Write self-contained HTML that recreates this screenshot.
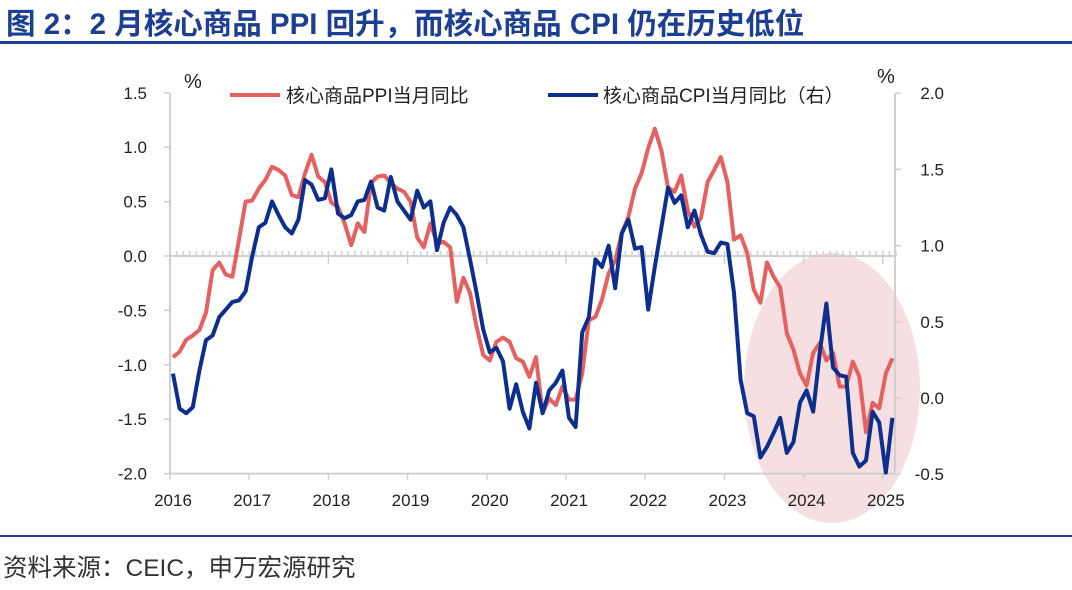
<!DOCTYPE html>
<html><head><meta charset="utf-8"><style>
body{margin:0;background:#fff;width:1072px;height:590px;overflow:hidden;font-family:"Liberation Sans","Noto Sans CJK SC",sans-serif;}
</style></head><body>
<svg id="c" width="1072" height="590" style="position:absolute;left:0;top:0;font-family:'Liberation Sans','Noto Sans CJK SC',sans-serif">
<text x="6" y="34" font-size="29.5" font-weight="bold" fill="#1c3f94">图 2：2 月核心商品 PPI 回升，而核心商品 CPI 仍在历史低位</text>
<rect x="0" y="41" width="1072" height="3" fill="#1c3f94"/>
<rect x="0" y="535" width="1072" height="2" fill="#1c3f94"/>
<text x="3" y="576" font-size="24.5" fill="#333">资料来源：CEIC，申万宏源研究</text>
<ellipse cx="832" cy="388" rx="88" ry="135" fill="#f6dfe1"/>
<g id="axes"></g>
<g id="series"></g>
<text x="184" y="88" font-size="20" fill="#222">%</text>
<text x="877" y="83" font-size="20" fill="#222">%</text>
<g>
<line x1="230" y1="95" x2="280" y2="95" stroke="#e5605f" stroke-width="4"/>
<text x="286" y="102" font-size="19" fill="#222">核心商品PPI当月同比</text>
<line x1="548" y1="95" x2="598" y2="95" stroke="#0c2f8f" stroke-width="4"/>
<text x="603" y="102" font-size="19" fill="#222">核心商品CPI当月同比（右）</text>
</g>
</svg>
<script>
const years=["2016","2017","2018","2019","2020","2021","2022","2023","2024","2025"];
const leftTicks=[1.5,1.0,0.5,0.0,-0.5,-1.0,-1.5,-2.0];
const rightTicks=[2.0,1.5,1.0,0.5,0.0,-0.5];
const ppi=[-0.93,-0.88,-0.77,-0.73,-0.68,-0.52,-0.13,-0.06,-0.17,-0.19,0.15,0.5,0.51,0.62,0.70,0.82,0.79,0.74,0.56,0.54,0.76,0.93,0.73,0.68,0.49,0.45,0.30,0.10,0.30,0.22,0.67,0.73,0.74,0.67,0.62,0.59,0.50,0.17,0.08,0.30,0.12,0.13,0.08,-0.42,-0.20,-0.34,-0.65,-0.91,-0.96,-0.79,-0.75,-0.79,-0.94,-0.97,-1.11,-0.93,-1.44,-1.31,-1.37,-1.20,-1.32,-1.32,-1.08,-0.59,-0.56,-0.40,-0.16,-0.04,0.21,0.36,0.62,0.76,0.99,1.17,0.97,0.63,0.59,0.74,0.42,0.27,0.35,0.68,0.79,0.91,0.68,0.15,0.19,0.03,-0.31,-0.43,-0.06,-0.19,-0.29,-0.71,-0.86,-1.08,-1.19,-0.89,-0.80,-0.96,-0.89,-1.20,-1.20,-0.97,-1.11,-1.62,-1.35,-1.40,-1.08,-0.94];
const cpi=[0.16,-0.07,-0.10,-0.06,0.18,0.38,0.41,0.53,0.58,0.63,0.64,0.70,0.93,1.12,1.15,1.29,1.20,1.12,1.08,1.17,1.43,1.40,1.30,1.31,1.50,1.21,1.18,1.20,1.29,1.30,1.42,1.25,1.23,1.45,1.29,1.23,1.17,1.36,1.25,1.29,0.97,1.15,1.25,1.20,1.12,0.91,0.69,0.45,0.30,0.33,0.24,-0.07,0.09,-0.09,-0.20,0.10,-0.10,0.05,0.10,0.18,-0.13,-0.19,0.43,0.53,0.91,0.86,1.00,0.72,1.08,1.17,0.98,0.99,0.58,0.86,1.12,1.38,1.28,1.33,1.12,1.23,1.07,0.96,0.95,1.02,1.01,0.69,0.12,-0.10,-0.12,-0.39,-0.32,-0.23,-0.13,-0.36,-0.29,-0.03,0.05,-0.09,0.30,0.62,0.20,0.15,0.14,-0.36,-0.45,-0.41,-0.09,-0.16,-0.49,-0.13];
const NS="http://www.w3.org/2000/svg";
const X0=173,MX=6.6;
const xM=i=>X0+i*MX;
const yL=v=>256-v*108.8;
const yR=v=>398-v*152.4;
function mk(tag,attrs,parent,txt){const e=document.createElementNS(NS,tag);for(const k in attrs)e.setAttribute(k,attrs[k]);if(txt!==undefined)e.textContent=txt;parent.appendChild(e);return e;}
const ax=document.getElementById('axes');
let e;
e=mk('line',{x1:170,y1:yL(1.5),x2:170,y2:yL(-2),stroke:'#d0d0d0','stroke-width':2},ax);


e=mk('line',{x1:895,y1:yR(2),x2:895,y2:yR(-0.5),stroke:'#d0d0d0','stroke-width':2},ax);


e=mk('line',{x1:170,y1:yL(0),x2:895,y2:yL(0),stroke:'#d0d0d0','stroke-width':2},ax);


e=mk('line',{x1:170,y1:yL(-2),x2:895,y2:yL(-2),stroke:'#d0d0d0','stroke-width':2},ax);


for(let i=0;i<=110;i++){mk('line',{x1:xM(i)-3,y1:yL(0)-5,x2:xM(i)-3,y2:yL(0),stroke:'#d0d0d0','stroke-width':1.5},ax);}
leftTicks.forEach(v=>{mk('line',{x1:164,y1:yL(v),x2:170,y2:yL(v),stroke:'#d0d0d0','stroke-width':1.5},ax);
e=mk('text',{x:147,y:yL(v)+6,'font-size':17,'text-anchor':'end',fill:'#222'},ax,v.toFixed(1));

});
rightTicks.forEach(v=>{mk('line',{x1:895,y1:yR(v),x2:901,y2:yR(v),stroke:'#d0d0d0','stroke-width':1.5},ax);
e=mk('text',{x:944,y:yR(v)+6,'font-size':17,'text-anchor':'end',fill:'#222'},ax,v.toFixed(1));

});
years.forEach((y,k)=>{const x=xM(k*12)-3;
mk('line',{x1:x,y1:yL(0),x2:x,y2:yL(0)+8,stroke:'#d0d0d0','stroke-width':1.5},ax);
mk('line',{x1:x,y1:yL(-2),x2:x,y2:yL(-2)+6,stroke:'#d0d0d0','stroke-width':1.5},ax);
e=mk('text',{x:xM(k*12),y:506,'font-size':17,'text-anchor':'middle',fill:'#222'},ax,y);

});
const sg=document.getElementById('series');
e=mk('polyline',{points:ppi.map((v,i)=>xM(i)+','+yL(v)).join(' '),fill:'none',stroke:'#e5605f','stroke-width':4,'stroke-linejoin':'round'},sg);


e=mk('polyline',{points:cpi.map((v,i)=>xM(i)+','+yR(v)).join(' '),fill:'none',stroke:'#0c2f8f','stroke-width':4,'stroke-linejoin':'round'},sg);


</script>
</body></html>
